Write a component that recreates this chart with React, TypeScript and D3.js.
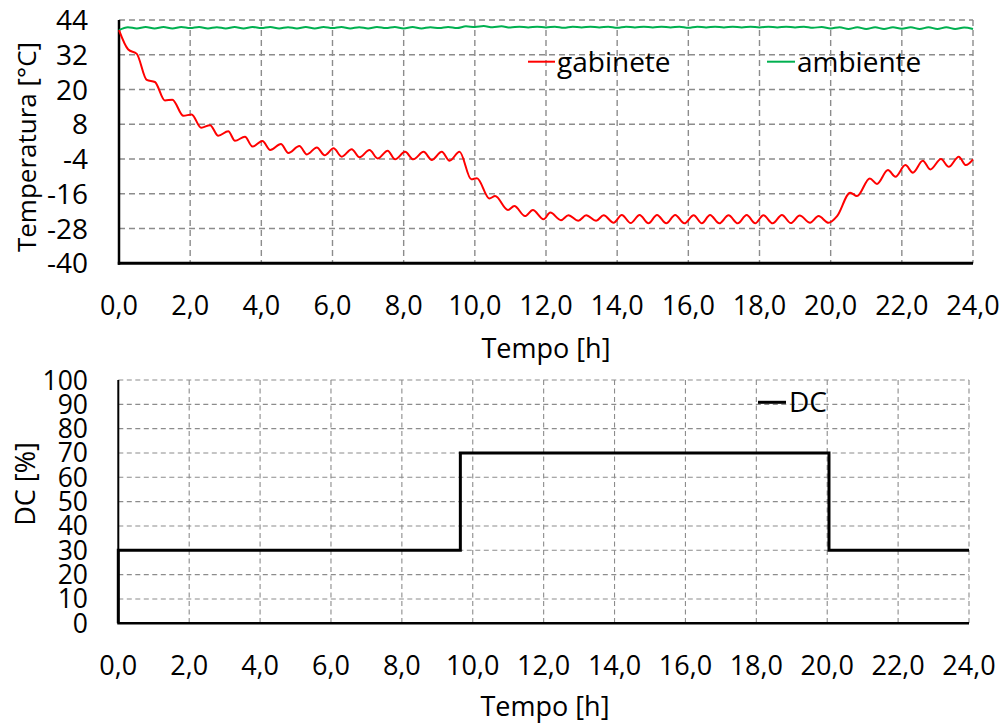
import React from "react";
import * as d3 from "d3";

// ---------- data ----------
const xTicks = [0, 2, 4, 6, 8, 10, 12, 14, 16, 18, 20, 22, 24];
const tempTicks = [-40, -28, -16, -4, 8, 20, 32, 44];
const dcTicks = [0, 10, 20, 30, 40, 50, 60, 70, 80, 90, 100];

// gabinete temperature [h, °C]
const gabinete: [number, number][] = [
  [0, 40.5], [0.26, 33.8], [0.5, 32.3], [0.78, 23.3], [1.01, 22.6], [1.29, 16.2], [1.5, 16.5],
  [1.81, 10.9], [2.04, 11.4], [2.31, 6.8], [2.56, 7.7], [2.79, 4.0], [3.07, 5.6], [3.26, 2.3],
  [3.54, 3.7], [3.75, 0.3], [4.03, 2.2], [4.25, -0.9], [4.55, 1.2], [4.76, -1.9], [5.07, 0.5],
  [5.28, -2.4], [5.56, 0.0], [5.78, -2.7], [6.03, -0.3], [6.26, -3.2], [6.54, -0.6], [6.76, -3.4],
  [7.04, -0.9], [7.27, -3.8], [7.55, -1.1], [7.76, -4.1], [8.04, -1.5], [8.27, -4.1], [8.56, -1.5],
  [8.79, -4.3], [9.07, -1.5], [9.29, -4.6], [9.57, -1.5], [9.9, -11.0], [10.06, -10.6],
  [10.41, -17.6], [10.57, -16.8], [10.93, -21.6], [11.11, -20.2], [11.41, -23.7], [11.63, -21.6],
  [11.93, -24.8], [12.12, -22.5], [12.42, -25.1], [12.63, -23.4], [12.91, -25.3], [13.13, -23.4],
  [13.41, -25.3], [13.62, -23.4], [13.9, -26.0], [14.13, -23.3], [14.38, -26.1], [14.63, -23.3],
  [14.88, -26.2], [15.12, -23.3], [15.38, -26.2], [15.63, -23.3], [15.89, -26.2], [16.15, -23.4],
  [16.38, -26.2], [16.61, -23.3], [16.87, -26.2], [17.13, -23.4], [17.39, -26.2], [17.64, -23.3],
  [17.88, -26.2], [18.11, -23.4], [18.37, -26.2], [18.63, -23.3], [18.88, -26.1], [19.13, -23.5],
  [19.42, -26.0], [19.66, -23.7], [19.94, -26.0], [20.18, -23.7], [20.55, -15.6], [20.74, -16.8],
  [21.1, -10.7], [21.3, -12.6], [21.61, -7.8], [21.82, -10.1], [22.1, -6.1], [22.31, -8.7],
  [22.59, -4.6], [22.8, -7.6], [23.1, -4.0], [23.32, -6.7], [23.6, -3.2], [23.8, -6.1], [24.0, -4.1],
];

// ambiente temperature [h, °C]
const ambiente: [number, number][] = [
  [0, 40.5], [0.25, 41.5], [0.5, 41.1], [0.75, 41.6], [1, 41.1], [1.25, 41.6], [1.5, 41.1],
  [1.75, 41.6], [2, 41.2], [2.25, 41.6], [2.5, 41.1], [2.75, 41.5], [3, 41.1], [3.25, 41.6],
  [3.5, 41.1], [3.75, 41.6], [4, 41.2], [4.25, 41.6], [4.5, 41.1], [4.75, 41.5], [5, 41.1],
  [5.25, 41.6], [5.5, 41.1], [5.75, 41.6], [6, 41.2], [6.25, 41.6], [6.5, 41.1], [6.75, 41.5],
  [7, 41.1], [7.25, 41.6], [7.5, 41.2], [7.75, 41.6], [8, 41.1], [8.25, 41.6], [8.5, 41.1],
  [8.75, 41.5], [9, 41.2], [9.25, 41.6], [9.5, 41.2], [9.75, 41.8], [10, 41.6], [10.25, 41.9],
  [10.5, 41.5], [10.75, 41.8], [11, 41.4], [11.25, 41.7], [11.5, 41.4], [11.75, 41.7], [12, 41.4],
  [12.25, 41.7], [12.5, 41.3], [12.75, 41.7], [13, 41.4], [13.25, 41.7], [13.5, 41.4], [13.75, 41.7],
  [14, 41.3], [14.25, 41.7], [14.5, 41.4], [14.75, 41.7], [15, 41.4], [15.25, 41.7], [15.5, 41.4],
  [15.75, 41.7], [16, 41.3], [16.25, 41.7], [16.5, 41.4], [16.75, 41.7], [17, 41.4], [17.25, 41.7],
  [17.5, 41.4], [17.75, 41.7], [18, 41.4], [18.25, 41.7], [18.5, 41.4], [18.75, 41.7], [19, 41.4],
  [19.25, 41.7], [19.5, 41.3], [19.75, 41.6], [20, 41.1], [20.25, 41.5], [20.5, 40.9], [20.75, 41.5],
  [21, 40.9], [21.25, 41.5], [21.5, 40.9], [21.75, 41.5], [22, 41.0], [22.25, 41.5], [22.5, 40.9],
  [22.75, 41.5], [23, 40.9], [23.25, 41.5], [23.5, 40.9], [23.75, 41.4], [24, 40.9],
];

// duty cycle [h, %]
const dc: [number, number][] = [
  [0, 0], [0, 30], [9.65, 30], [9.65, 70], [20.05, 70], [20.05, 30], [24, 30],
];

const FONT = "'Open Sans', 'Noto Sans', sans-serif";
const GRID = "#8c8c8c";

const fmtX = (d: number) => d.toFixed(1).replace(".", ",");

export default function App() {
  // top chart scales
  const x1 = d3.scaleLinear().domain([0, 24]).range([119, 973]);
  const y1 = d3.scaleLinear().domain([-40, 44]).range([263.3, 20]);
  // bottom chart scales
  const x2 = d3.scaleLinear().domain([0, 24]).range([118.3, 969]);
  const y2 = d3.scaleLinear().domain([0, 100]).range([623.3, 380]);

  const lineTop = d3
    .line<[number, number]>()
    .x((d) => x1(d[0]))
    .y((d) => y1(d[1]))
    .curve(d3.curveMonotoneX);
  const lineDc = d3
    .line<[number, number]>()
    .x((d) => x2(d[0]))
    .y((d) => y2(d[1]));

  return (
    <svg
      width={1005}
      height={724}
      style={{ position: "absolute", left: 0, top: 0, background: "#fff" }}
      fontFamily={FONT}
    >
      <rect width={1005} height={724} fill="#fff" />

      {/* ===== TOP CHART ===== */}
      <g>
        {tempTicks
          .filter((t) => t !== -40)
          .map((t) => (
            <line key={"hy" + t} x1={x1(0)} x2={x1(24)} y1={y1(t)} y2={y1(t)}
              stroke={GRID} strokeWidth={1.4} strokeDasharray="6,4" />
          ))}
        {xTicks
          .filter((t) => t !== 0)
          .map((t) => (
            <line key={"vx" + t} x1={x1(t)} x2={x1(t)} y1={y1(44)} y2={y1(-40)}
              stroke={GRID} strokeWidth={1.4} strokeDasharray="6,4" />
          ))}
        <line x1={x1(0)} x2={x1(0)} y1={y1(44)} y2={y1(-40) + 1.5} stroke="#000" strokeWidth={2.5} />
        <line x1={x1(0) - 1.2} x2={x1(24)} y1={y1(-40)} y2={y1(-40)} stroke="#000" strokeWidth={3} />

        <path d={lineTop(ambiente) || ""} fill="none" stroke="#00b050" strokeWidth={2} />
        <path d={lineTop(gabinete) || ""} fill="none" stroke="#ff0000" strokeWidth={2} />

        {tempTicks.map((t) => (
          <text key={"ty" + t} x={88} y={y1(t) + 10} textAnchor="end" fontSize={28} fill="#000">
            {t}
          </text>
        ))}
        {xTicks.map((t) => (
          <text key={"tx" + t} x={x1(t)} y={315} textAnchor="middle" fontSize={27} fill="#000">
            {fmtX(t)}
          </text>
        ))}
        <text x={546} y={358} textAnchor="middle" fontSize={27} fill="#000">Tempo [h]</text>
        <text transform="translate(36,147) rotate(-90)" textAnchor="middle" fontSize={26} fill="#000">
          Temperatura [°C]
        </text>

        {/* legend */}
        <line x1={528} x2={555} y1={61.7} y2={61.7} stroke="#ff0000" strokeWidth={2} />
        <text x={557} y={72} fontSize={28} fill="#000">gabinete</text>
        <line x1={767} x2={795} y1={61.7} y2={61.7} stroke="#00b050" strokeWidth={2} />
        <text x={797} y={72} fontSize={28} fill="#000">ambiente</text>
      </g>

      {/* ===== BOTTOM CHART ===== */}
      <g>
        {dcTicks
          .filter((t) => t !== 0)
          .map((t) => (
            <line key={"hd" + t} x1={x2(0)} x2={x2(24)} y1={y2(t)} y2={y2(t)}
              stroke={GRID} strokeWidth={1.1} strokeDasharray="5,3.5" />
          ))}
        {xTicks
          .filter((t) => t !== 0)
          .map((t) => (
            <line key={"vd" + t} x1={x2(t)} x2={x2(t)} y1={y2(100)} y2={y2(0)}
              stroke={GRID} strokeWidth={1.1} strokeDasharray="5,3.5" />
          ))}
        <line x1={x2(0)} x2={x2(0)} y1={y2(100)} y2={y2(0)} stroke="#000" strokeWidth={2} />
        <line x1={x2(0) - 1} x2={x2(24)} y1={y2(0)} y2={y2(0)} stroke="#000" strokeWidth={2.5} />

        <path d={lineDc(dc) || ""} fill="none" stroke="#000" strokeWidth={3} />

        {dcTicks.map((t) => (
          <text key={"dy" + t} x={88} y={y2(t) + 9.5} textAnchor="end" fontSize={26.5} fill="#000">
            {t}
          </text>
        ))}
        {xTicks.map((t) => (
          <text key={"dx" + t} x={x2(t)} y={675} textAnchor="middle" fontSize={27} fill="#000">
            {fmtX(t)}
          </text>
        ))}
        <text x={545} y={716} textAnchor="middle" fontSize={27} fill="#000">Tempo [h]</text>
        <text transform="translate(35,484) rotate(-90)" textAnchor="middle" fontSize={27} fill="#000">
          DC [%]
        </text>

        {/* legend */}
        <line x1={758} x2={786} y1={402.3} y2={402.3} stroke="#000" strokeWidth={3} />
        <text x={789} y={412} fontSize={28} fill="#000">DC</text>
      </g>
    </svg>
  );
}
